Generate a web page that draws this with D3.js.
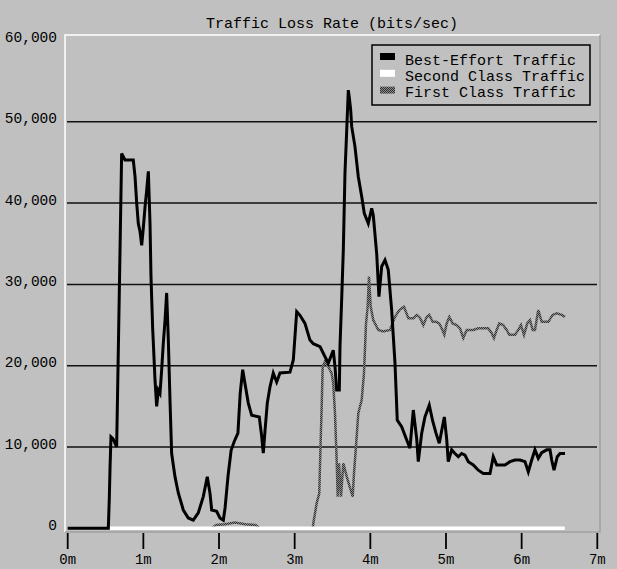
<!DOCTYPE html>
<html>
  <head>
    <meta charset="utf-8" />
    <title>Traffic Loss Rate</title>
    <script src="https://d3js.org/d3.v7.min.js"></script>
    <style>
        body {
            margin:0;
            background:#c0c0c0;
        }
        text {
            font-family: "Liberation Mono", "DejaVu Sans Mono", monospace;
            fill: #000;
        }
    </style>
  </head>
  <body>
    <svg id="viz"></svg>

    <script>
    // minutes, bits/sec
    var bestEffort = [
      [0,0],[0.537,0],[0.55,3700],[0.56,7600],[0.572,11250],[0.60,11000],[0.647,10000],
      [0.669,21900],[0.691,33900],[0.713,46100],[0.757,45300],[0.867,45300],[0.890,43250],
      [0.912,40000],[0.933,37500],[0.956,36500],[0.978,34800],[1.0,37000],[1.022,39500],
      [1.044,41600],[1.066,43900],[1.088,37500],[1.101,30950],[1.123,24600],[1.154,18250],
      [1.176,15000],[1.198,17000],[1.220,16600],[1.242,19500],[1.264,22800],[1.286,25500],
      [1.308,28950],[1.330,23200],[1.352,15800],[1.374,9200],[1.418,6350],[1.462,4350],
      [1.528,2250],[1.594,1270],[1.660,1000],[1.726,1900],[1.792,3900],[1.845,6350],
      [1.881,4300],[1.903,2250],[1.969,2100],[2.012,1270],[2.057,1000],[2.08,2500],
      [2.12,6500],[2.16,9600],[2.20,10650],[2.25,11700],[2.28,16600],[2.313,19500],
      [2.343,17800],[2.387,15400],[2.432,13900],[2.532,13700],[2.564,11300],[2.585,9250],
      [2.608,12000],[2.638,15400],[2.674,17400],[2.717,19100],[2.762,18000],[2.806,19100],
      [2.938,19200],[2.982,20700],[3.027,26650],[3.070,26200],[3.136,25200],[3.202,23150],
      [3.246,22700],[3.335,22350],[3.401,21100],[3.444,20300],[3.510,21900],[3.533,19900],
      [3.555,17000],[3.590,17000],[3.599,22350],[3.621,28100],[3.643,34250],[3.665,43700],
      [3.688,49000],[3.709,53900],[3.722,53000],[3.740,51500],[3.754,49400],[3.797,46950],
      [3.841,43250],[3.886,40800],[3.920,38750],[3.973,37500],[4.018,39350],[4.039,38500],
      [4.084,33800],[4.114,28500],[4.150,32200],[4.194,33000],[4.237,31800],[4.282,26850],
      [4.326,20300],[4.356,13300],[4.414,12500],[4.481,10850],[4.524,9850],[4.568,14550],
      [4.613,11000],[4.634,8200],[4.679,11700],[4.722,13700],[4.779,15150],[4.824,13200],
      [4.868,11700],[4.911,10450],[4.943,12000],[4.978,13700],[5.009,11000],[5.030,8200],
      [5.075,9650],[5.119,9200],[5.163,8800],[5.207,9200],[5.251,9000],[5.295,8200],
      [5.361,7800],[5.427,7150],[5.493,6750],[5.582,6750],[5.625,8800],[5.670,7800],
      [5.780,7800],[5.846,8200],[5.912,8400],[5.978,8400],[6.044,8200],[6.088,6950],
      [6.133,8400],[6.176,9650],[6.220,8600],[6.265,9300],[6.331,9650],[6.375,9650],
      [6.397,8400],[6.428,7150],[6.471,8800],[6.507,9200],[6.573,9200]
    ];

    var secondClass = [[0.55,0],[6.57,0]];

    var firstClass = [
      [0.55,0],[1.91,0],[1.96,400],[2.08,500],[2.21,700],[2.35,500],[2.48,400],[2.54,0],
      [3.24,0],[3.246,600],[3.291,3100],[3.325,4300],[3.344,10850],[3.357,15000],
      [3.370,19900],[3.401,20500],[3.444,19900],[3.489,19050],[3.510,17800],[3.533,14150],
      [3.555,8400],[3.569,3900],[3.586,8000],[3.612,3900],[3.643,8000],[3.688,6350],
      [3.731,5000],[3.767,3900],[3.784,6750],[3.810,10050],[3.841,14150],[3.886,15800],
      [3.916,19050],[3.943,25200],[3.965,27250],[3.982,30950],[4.005,27250],[4.039,25600],
      [4.105,24400],[4.171,24200],[4.260,24400],[4.326,26000],[4.383,26850],[4.445,27250],
      [4.502,25850],[4.568,25850],[4.613,26250],[4.656,25900],[4.700,25000],[4.745,26000],
      [4.779,26250],[4.824,25400],[4.868,25400],[4.911,25200],[4.943,24600],[4.978,23800],
      [5.009,25200],[5.044,26000],[5.088,25200],[5.141,25000],[5.185,24600],[5.229,23400],
      [5.274,24400],[5.361,24400],[5.427,24600],[5.493,24600],[5.559,24600],[5.604,24000],
      [5.634,23400],[5.670,24400],[5.704,25200],[5.757,25000],[5.802,24400],[5.837,23800],
      [5.912,23800],[5.956,24400],[5.991,25000],[6.031,23800],[6.074,25200],[6.110,25600],
      [6.146,24400],[6.176,24400],[6.220,26850],[6.265,25400],[6.352,25400],[6.410,26250],
      [6.463,26450],[6.529,26250],[6.573,26000]
    ];

    var yTicks = [0, 10000, 20000, 30000, 40000, 50000, 60000];
    var xTicks = [0, 1, 2, 3, 4, 5, 6, 7];
    var legendNames = ["Best-Effort Traffic", "Second Class Traffic", "First Class Traffic"];

    var width = 617, height = 569;

    var svg = d3.select("#viz")
      .attr("width", width)
      .attr("height", height);

    svg.append("rect").attr("width", width).attr("height", height).attr("fill", "#c0c0c0");

    // dotted texture for first class
    var defs = svg.append("defs");
    var pat = defs.append("pattern").attr("id", "dots")
      .attr("width", 2).attr("height", 2).attr("patternUnits", "userSpaceOnUse");
    pat.append("rect").attr("width", 2).attr("height", 2).attr("fill", "#8c8c8c");
    pat.append("rect").attr("width", 1).attr("height", 1).attr("fill", "#303030");
    pat.append("rect").attr("x", 1).attr("y", 1).attr("width", 1).attr("height", 1).attr("fill", "#303030");

    var x = d3.scaleLinear().domain([0, 7]).range([67.7, 597.3]);
    var y = d3.scaleLinear().domain([0, 60000]).range([528.3, 40.5]);

    // plot frame
    svg.append("path").attr("d", "M65,532 V35 H600").attr("fill", "none")
      .attr("stroke", "#fff").attr("stroke-width", 1.5);
    svg.append("path").attr("d", "M600,35 V532 H65").attr("fill", "none")
      .attr("stroke", "#a0a0a0").attr("stroke-width", 1.5);

    // grid lines
    svg.selectAll(".grid").data(yTicks.filter(function(d){ return d > 0 && d < 60000; }))
      .enter().append("line")
      .attr("x1", 67).attr("x2", 597)
      .attr("y1", function(d){ return y(d); }).attr("y2", function(d){ return y(d); })
      .attr("stroke", "#111").attr("stroke-width", 1.5);

    // y labels
    svg.selectAll(".ylab").data(yTicks).enter().append("text")
      .attr("x", 57).attr("y", function(d){ return y(d) + 1.5; })
      .attr("text-anchor", "end")
      .style("font-size", "14.5px")
      .text(d3.format(","));

    // x ticks + labels
    svg.selectAll(".xtick").data(xTicks).enter().append("line")
      .attr("x1", function(d){ return x(d); }).attr("x2", function(d){ return x(d); })
      .attr("y1", 533).attr("y2", 549)
      .attr("stroke", "#000").attr("stroke-width", 1.8);
    svg.selectAll(".xlab").data(xTicks).enter().append("text")
      .attr("x", function(d){ return x(d); }).attr("y", 563.5)
      .attr("text-anchor", "middle")
      .style("font-size", "14px")
      .text(function(d){ return d + "m"; });

    // title
    svg.append("text").attr("x", 332).attr("y", 27.5)
      .attr("text-anchor", "middle").style("font-size", "15px")
      .text("Traffic Loss Rate (bits/sec)");

    var line = d3.line()
      .x(function(d){ return x(d[0]); })
      .y(function(d){ return y(d[1]); });

    svg.append("path").datum(firstClass).attr("d", line)
      .attr("fill", "none").attr("stroke", "url(#dots)").attr("stroke-width", 2.5);
    svg.append("path").datum(secondClass).attr("d", line)
      .attr("fill", "none").attr("stroke", "#fff").attr("stroke-width", 3.5);
    svg.append("path").datum(bestEffort).attr("d", line)
      .attr("fill", "none").attr("stroke", "#000").attr("stroke-width", 3)
      .attr("stroke-linejoin", "miter");

    // legend
    var legend = svg.append("g");
    legend.append("rect").attr("x", 372).attr("y", 45).attr("width", 218).attr("height", 60)
      .attr("fill", "none").attr("stroke", "#000").attr("stroke-width", 1.5);
    var swatchFill = ["#000", "#fff", "url(#dots)"];
    legendNames.forEach(function(name, i){
      legend.append("rect").attr("x", 380).attr("y", 53 + i * 16.8)
        .attr("width", 15).attr("height", 7).attr("fill", swatchFill[i]);
      legend.append("text").attr("x", 405).attr("y", 64.5 + i * 16.2)
        .style("font-size", "15px").text(name);
    });
    </script>
  </body>
</html>
